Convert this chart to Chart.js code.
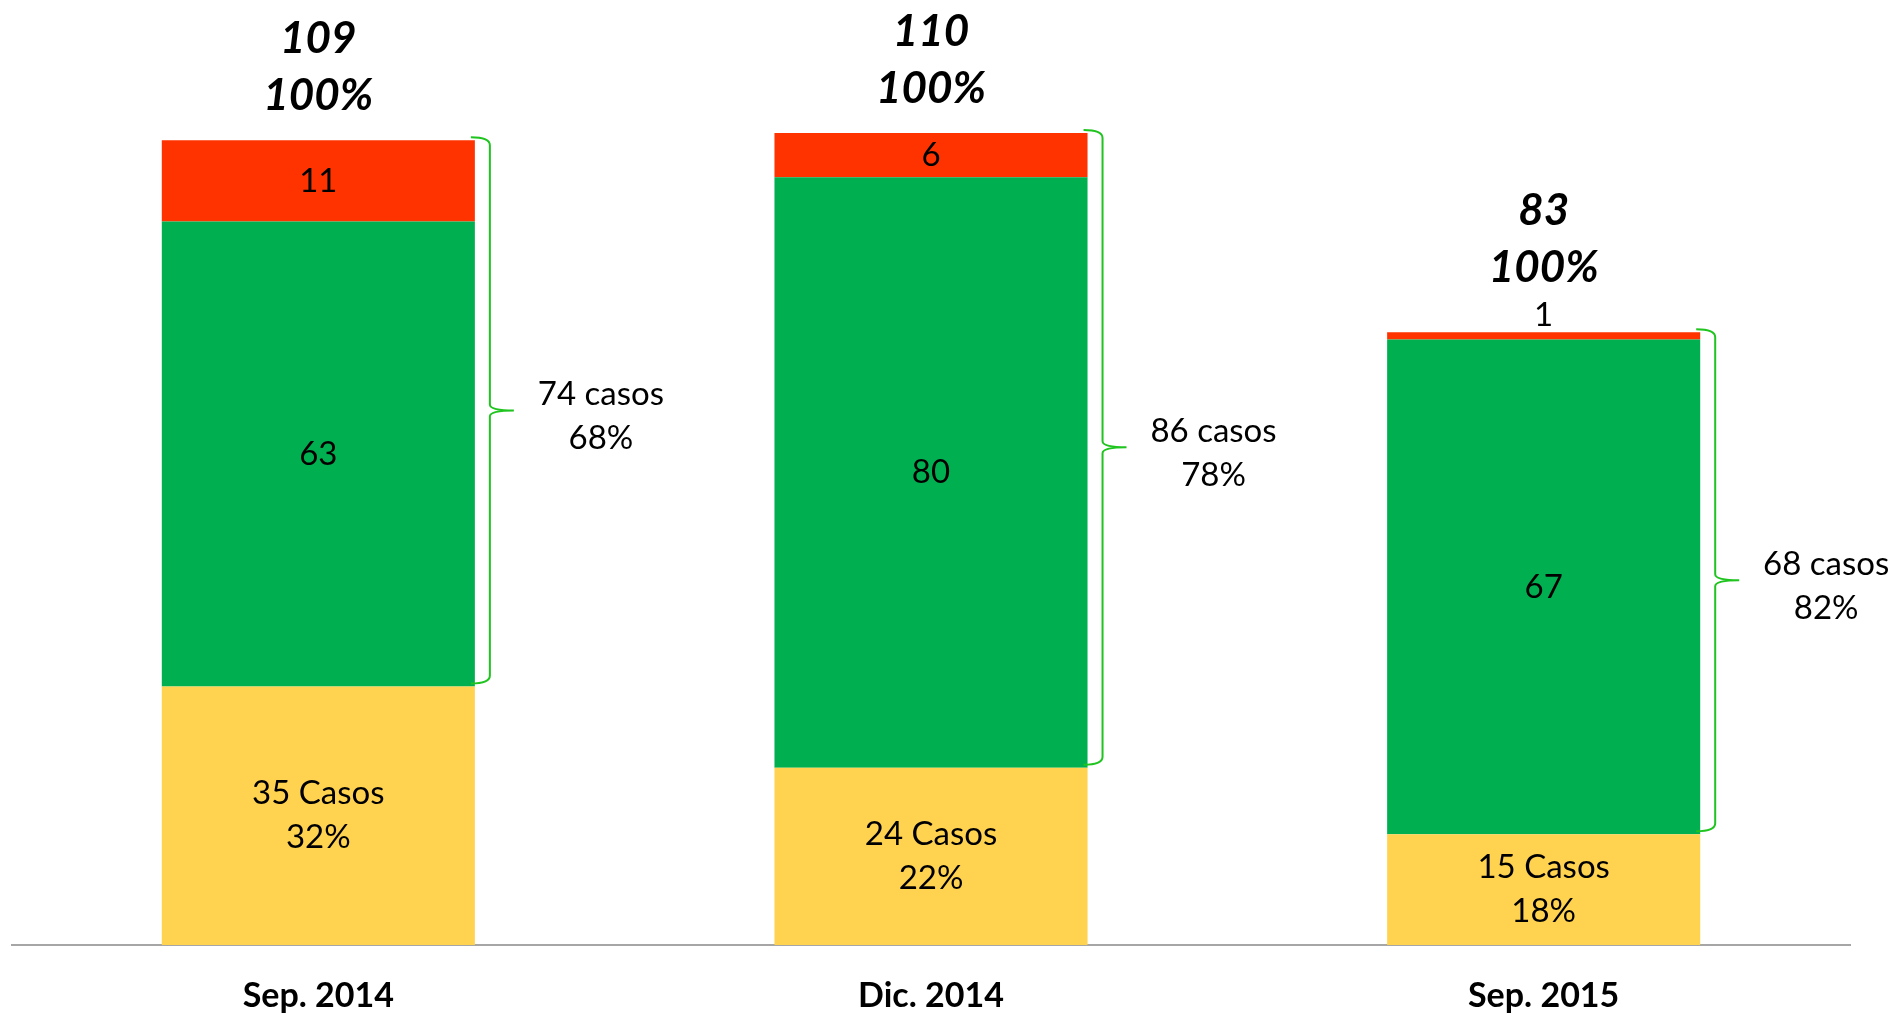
<!DOCTYPE html>
<html>
<head>
<meta charset="utf-8">
<script src="https://cdn.jsdelivr.net/npm/chart.js@4.4.0/dist/chart.umd.min.js"></script>
<style>
    html, body { margin: 0; padding: 0; background: #ffffff; }
    #wrap { width: 1902px; height: 1014px; position: relative; }
</style>
</head>
<body>
<div id="wrap"><canvas id="casosChart"></canvas></div>
<script>
// data
const categories = ['Sep. 2014', 'Dic. 2014', 'Sep. 2015'];
const yellowCases = [35, 24, 15];
const greenCases = [63, 80, 67];
const redCases = [11, 6, 1];
const totals = [109, 110, 83];

const FONT = 'Lato, "Open Sans", sans-serif';

// labels, brackets and totals drawn on top of the stacked bars
const labelPlugin = {
    id: 'labelPlugin',
    afterDatasetsDraw(chart) {
        const ctx = chart.ctx;
        const yMeta = chart.getDatasetMeta(0);
        const gMeta = chart.getDatasetMeta(1);
        const rMeta = chart.getDatasetMeta(2);

        ctx.save();
        ctx.textAlign = 'center';
        ctx.textBaseline = 'middle';
        ctx.fillStyle = '#000000';

        categories.forEach((cat, i) => {
            const yEl = yMeta.data[i];
            const gEl = gMeta.data[i];
            const rEl = rMeta.data[i];
            const cx = yEl.x;

            ctx.font = '33px ' + FONT;

            // yellow segment: "N Casos" + percentage
            const yMid = (yEl.y + yEl.base) / 2;
            const yPct = Math.round(yellowCases[i] / totals[i] * 100);
            ctx.fillText(yellowCases[i] + ' Casos', cx, yMid - 22);
            ctx.fillText(yPct + '%', cx, yMid + 22);

            // green segment
            ctx.fillText(String(greenCases[i]), cx, (gEl.y + gEl.base) / 2);

            // red segment (goes above the bar when it is too thin)
            const rHeight = rEl.base - rEl.y;
            let topRef = rEl.y;
            if (rHeight < 30) {
                ctx.fillText(String(redCases[i]), cx, rEl.y - 17);
                topRef = rEl.y - 20;
            } else {
                ctx.fillText(String(redCases[i]), cx, (rEl.y + rEl.base) / 2);
            }

            // totals above the bar
            ctx.font = 'italic bold 44px ' + FONT;
            ctx.fillText('100%', cx, topRef - 44);
            ctx.fillText(String(totals[i]), cx, topRef - 101);

            // curly bracket over red + green
            const x0 = cx + yEl.width / 2;
            const xv = x0 + 15;
            const tip = xv + 24;
            const top = rEl.y - 3;
            const bottom = gEl.base - 3;
            const mid = (top + bottom) / 2;
            ctx.strokeStyle = '#1fc41f';
            ctx.lineWidth = 2;
            ctx.beginPath();
            ctx.moveTo(x0 - 4, top);
            ctx.quadraticCurveTo(xv, top, xv, top + 8);
            ctx.lineTo(xv, mid - 6);
            ctx.quadraticCurveTo(xv, mid, tip, mid);
            ctx.moveTo(tip, mid);
            ctx.quadraticCurveTo(xv, mid, xv, mid + 6);
            ctx.lineTo(xv, bottom - 8);
            ctx.quadraticCurveTo(xv, bottom, x0 - 4, bottom);
            ctx.stroke();

            // bracket text
            const bCases = greenCases[i] + redCases[i];
            const bPct = Math.round(bCases / totals[i] * 100);
            ctx.font = '33px ' + FONT;
            ctx.fillStyle = '#000000';
            ctx.fillText(bCases + ' casos', tip + 87, mid - 16);
            ctx.fillText(bPct + '%', tip + 87, mid + 28);
        });
        ctx.restore();
    }
};

const ctx = document.getElementById('casosChart').getContext('2d');
new Chart(ctx, {
    type: 'bar',
    data: {
        labels: categories,
        datasets: [
            { label: 'Amarillo', data: yellowCases, backgroundColor: '#FFD34F' },
            { label: 'Verde', data: greenCases, backgroundColor: '#00B050' },
            { label: 'Rojo', data: redCases, backgroundColor: '#FF3300' }
        ]
    },
    options: {
        responsive: true,
        maintainAspectRatio: false,
        animation: false,
        categoryPercentage: 0.511,
        barPercentage: 1,
        layout: {
            padding: { left: 12, right: 52, top: 0, bottom: 0 }
        },
        plugins: {
            legend: { display: false },
            tooltip: { enabled: false }
        },
        scales: {
            x: {
                stacked: true,
                grid: { display: false, drawTicks: false },
                border: { display: true, color: '#A6A6A6', width: 2 },
                ticks: {
                    color: '#000000',
                    padding: 31,
                    font: { family: FONT, size: 34, weight: 'bold' }
                },
                afterFit: function (scale) {
                    scale.height = 69;
                }
            },
            y: {
                stacked: true,
                display: false,
                min: 0,
                max: 128
            }
        }
    },
    plugins: [labelPlugin]
});
</script>
</body>
</html>
